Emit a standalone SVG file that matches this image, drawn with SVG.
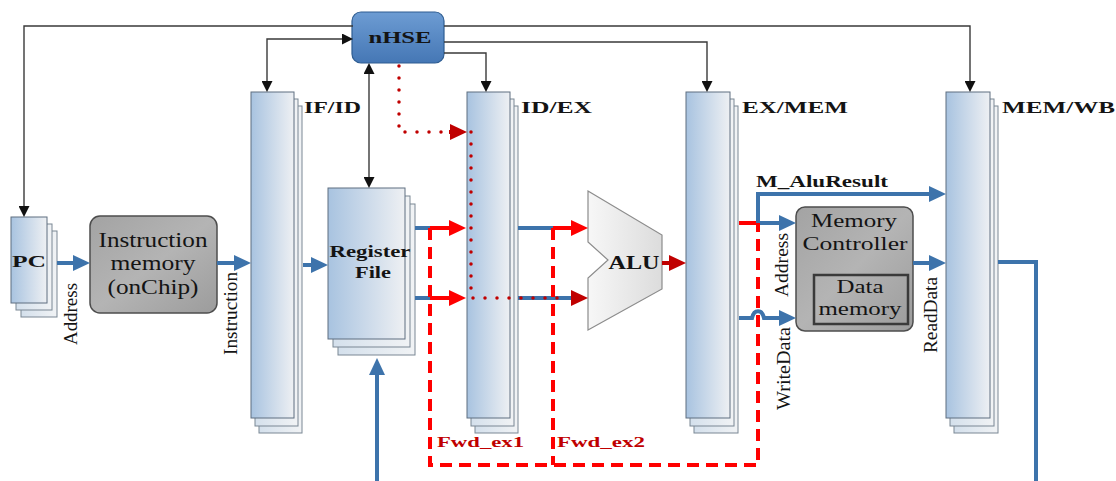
<svg xmlns="http://www.w3.org/2000/svg" width="1116" height="481" viewBox="0 0 1116 481">
<style>
.t{font-family:"Liberation Serif","Times New Roman",serif;fill:#141414}
.b{font-weight:bold}
.c{text-anchor:middle}
.front{fill:url(#gReg);stroke:#5f6f80;stroke-width:1}
.back{fill:url(#gBack);stroke:#7a8794;stroke-width:1}
.blk{fill:none;stroke:#3a3a3a;stroke-width:1.4}
.blu{fill:none;stroke:#3d73ab;stroke-width:4}
.red{fill:none;stroke:#ff0000;stroke-width:4}
.dred{fill:none;stroke:#c00000;stroke-width:4}
.dash{fill:none;stroke:#ff0000;stroke-width:4;stroke-dasharray:12 7}
.dot{fill:none;stroke:#c00000;stroke-width:3.5;stroke-linecap:round;stroke-dasharray:0 12}
.gray{fill:url(#gGray);stroke:#4d4d4d;stroke-width:1.5}
.fwd{fill:#c00000}
</style>
<defs>
<linearGradient id="gReg" x1="0" y1="0" x2="1" y2="0"><stop offset="0" stop-color="#a8c3e0"/><stop offset="1" stop-color="#eef0f3"/></linearGradient>
<linearGradient id="gBack" x1="0" y1="0" x2="1" y2="0"><stop offset="0" stop-color="#d4e0ec"/><stop offset="1" stop-color="#f1f3f5"/></linearGradient>
<linearGradient id="gHse" x1="0" y1="0" x2="0" y2="1"><stop offset="0" stop-color="#6d9cd3"/><stop offset="1" stop-color="#4577b5"/></linearGradient>
<linearGradient id="gGray" x1="0" y1="0" x2="1" y2="1"><stop offset="0" stop-color="#a3a3a3"/><stop offset="0.5" stop-color="#b4b4b4"/><stop offset="1" stop-color="#9c9c9c"/></linearGradient>
<linearGradient id="gAlu" x1="0" y1="0" x2="1" y2="0"><stop offset="0" stop-color="#f7f7f7"/><stop offset="1" stop-color="#dcdcdc"/></linearGradient>
<marker id="hk" markerUnits="userSpaceOnUse" markerWidth="11" markerHeight="11" refX="0" refY="5.5" orient="auto-start-reverse"><path d="M0,0L11,5.5L0,11z" fill="#111"/></marker>
<marker id="hb" markerUnits="userSpaceOnUse" markerWidth="17" markerHeight="16" refX="0" refY="8" orient="auto"><path d="M0,0L17,8L0,16z" fill="#3d73ab"/></marker>
<marker id="hr" markerUnits="userSpaceOnUse" markerWidth="17" markerHeight="16" refX="0" refY="8" orient="auto"><path d="M0,0L17,8L0,16z" fill="#ff0000"/></marker>
<marker id="hd" markerUnits="userSpaceOnUse" markerWidth="17" markerHeight="16" refX="0" refY="8" orient="auto"><path d="M0,0L17,8L0,16z" fill="#c00000"/></marker>
</defs>
<rect width="1116" height="481" fill="#ffffff"/>

<g id="pc">
<rect class="back" x="21" y="231" width="36" height="86"/>
<rect class="back" x="16" y="224" width="36" height="86"/>
<rect class="front" x="11" y="217" width="36" height="86"/>
<text class="t b c" x="29" y="267" font-size="17" textLength="34" lengthAdjust="spacingAndGlyphs">PC</text>
</g>

<g id="instruction-memory">
<rect class="gray" x="90" y="216" width="127" height="97" rx="10"/>
<text class="t c" x="153" y="247" font-size="21" textLength="109" lengthAdjust="spacingAndGlyphs">Instruction</text>
<text class="t c" x="153" y="270" font-size="21" textLength="85" lengthAdjust="spacingAndGlyphs">memory</text>
<text class="t c" x="153" y="294" font-size="21" textLength="91" lengthAdjust="spacingAndGlyphs">(onChip)</text>
</g>

<g id="if-id">
<rect class="back" x="259" y="106" width="43" height="327"/>
<rect class="back" x="255" y="99" width="43" height="327"/>
<rect class="front" x="251" y="92" width="43" height="326"/>
<text class="t b" x="304" y="113" font-size="17" textLength="57" lengthAdjust="spacingAndGlyphs">IF/ID</text>
</g>

<g id="register-file">
<rect class="back" x="338" y="204" width="77" height="151"/>
<rect class="back" x="333" y="196" width="77" height="151"/>
<rect class="front" x="328" y="188" width="77" height="151"/>
<text class="t b c" x="370" y="257" font-size="17" textLength="81" lengthAdjust="spacingAndGlyphs">Register</text>
<text class="t b c" x="373" y="278" font-size="17" textLength="36" lengthAdjust="spacingAndGlyphs">File</text>
</g>

<g id="id-ex">
<rect class="back" x="475" y="106" width="43" height="327"/>
<rect class="back" x="471" y="99" width="43" height="327"/>
<rect class="front" x="467" y="92" width="43" height="326"/>
<text class="t b" x="521" y="113" font-size="17" textLength="71" lengthAdjust="spacingAndGlyphs">ID/EX</text>
</g>

<g id="alu">
<polygon points="588,191 662,235 662,289 588,330 588,278 608,260 588,242" fill="url(#gAlu)" stroke="#8c8c8c" stroke-width="1.2"/>
<text class="t b c" x="634" y="269" font-size="19" textLength="51" lengthAdjust="spacingAndGlyphs">ALU</text>
</g>

<g id="ex-mem">
<rect class="back" x="694" y="106" width="44" height="327"/>
<rect class="back" x="690" y="99" width="44" height="327"/>
<rect class="front" x="686" y="92" width="44" height="326"/>
<text class="t b" x="742" y="113" font-size="17" textLength="106" lengthAdjust="spacingAndGlyphs">EX/MEM</text>
</g>

<g id="memory-controller">
<rect class="gray" x="796" y="207" width="117" height="124" rx="9"/>
<text class="t c" x="854" y="227" font-size="19" textLength="86" lengthAdjust="spacingAndGlyphs">Memory</text>
<text class="t c" x="855" y="250" font-size="19" textLength="105" lengthAdjust="spacingAndGlyphs">Controller</text>
<rect x="814" y="275" width="94" height="49" fill="none" stroke="#3a3a3a" stroke-width="2.5"/>
<text class="t c" x="860" y="293" font-size="19" textLength="47" lengthAdjust="spacingAndGlyphs">Data</text>
<text class="t c" x="860" y="315" font-size="19" textLength="83" lengthAdjust="spacingAndGlyphs">memory</text>
</g>

<g id="mem-wb">
<rect class="back" x="954" y="106" width="44" height="327"/>
<rect class="back" x="950" y="99" width="44" height="327"/>
<rect class="front" x="946" y="92" width="44" height="326"/>
<text class="t b" x="1002" y="113" font-size="17" textLength="113" lengthAdjust="spacingAndGlyphs">MEM/WB</text>
</g>

<g id="nhse">
<rect x="352" y="12" width="92" height="51" rx="9" fill="url(#gHse)" stroke="#2e5d92" stroke-width="1.2"/>
<text class="t b c" x="400" y="43" font-size="17" textLength="63" lengthAdjust="spacingAndGlyphs">nHSE</text>
</g>

<g id="connectors">
<path class="blk" d="M353,26H24V206" marker-end="url(#hk)"/>
<path class="blk" d="M444,26H970V81" marker-end="url(#hk)"/>
<path class="blk" d="M267,81V39H342" marker-start="url(#hk)" marker-end="url(#hk)"/>
<path class="blk" d="M444,42H707V81" marker-end="url(#hk)"/>
<path class="blk" d="M444,53H486V81" marker-end="url(#hk)"/>
<path class="blk" d="M369,74V177" marker-start="url(#hk)" marker-end="url(#hk)"/>

<path class="blu" d="M57,263H73" marker-end="url(#hb)"/>
<path class="blu" d="M217,263H234" marker-end="url(#hb)"/>
<path class="blu" d="M303,265H311" marker-end="url(#hb)"/>
<path class="blu" d="M415,228H431"/>
<path class="blu" d="M415,298H431"/>
<path class="red" d="M430,228H449" marker-end="url(#hr)"/>
<path class="red" d="M430,298H449" marker-end="url(#hr)"/>
<path class="blu" d="M518,228H553"/>
<path class="red" d="M553,228H571" marker-end="url(#hr)"/>
<path class="blu" d="M518,298H571" marker-end="url(#hd)"/>
<path class="dred" d="M662,263H669" marker-end="url(#hd)"/>
<path class="red" d="M739,223H758"/>
<path class="blu" d="M758,223V194H929" marker-end="url(#hb)"/>
<path class="blu" d="M758,223H779" marker-end="url(#hb)"/>
<path class="blu" d="M739,318H752C754,309 762,309 764,318H779" marker-end="url(#hb)"/>
<path class="blu" d="M913,263H929" marker-end="url(#hb)"/>
<path class="blu" d="M998,262H1036V490"/>
<path class="blu" d="M377,490V375" marker-end="url(#hb)"/>

<path class="dash" d="M430,228V465H758V223"/>
<path class="dash" d="M553,228V465"/>

<path class="dot" d="M399,66V132H450"/>
<path class="dred" d="M449,132H450" stroke-width="0.1" marker-end="url(#hd)"/>
<path class="dot" d="M471,132V298H568"/>
</g>

<g id="labels">
<text class="t" transform="translate(77,345) rotate(-90)" font-size="19" textLength="62" lengthAdjust="spacingAndGlyphs">Address</text>
<text class="t" transform="translate(237,355) rotate(-90)" font-size="19" textLength="83" lengthAdjust="spacingAndGlyphs">Instruction</text>
<text class="t" transform="translate(788,297) rotate(-90)" font-size="19" textLength="64" lengthAdjust="spacingAndGlyphs">Address</text>
<text class="t" transform="translate(790,410) rotate(-90)" font-size="19" textLength="83" lengthAdjust="spacingAndGlyphs">WriteData</text>
<text class="t" transform="translate(937,353) rotate(-90)" font-size="19" textLength="76" lengthAdjust="spacingAndGlyphs">ReadData</text>
<text class="t b" x="756" y="187" font-size="16" textLength="132" lengthAdjust="spacingAndGlyphs">M_AluResult</text>
<text class="t b fwd" x="437" y="447" font-size="15" textLength="87" lengthAdjust="spacingAndGlyphs">Fwd_ex1</text>
<text class="t b fwd" x="557" y="447" font-size="15" textLength="88" lengthAdjust="spacingAndGlyphs">Fwd_ex2</text>
</g>
</svg>
